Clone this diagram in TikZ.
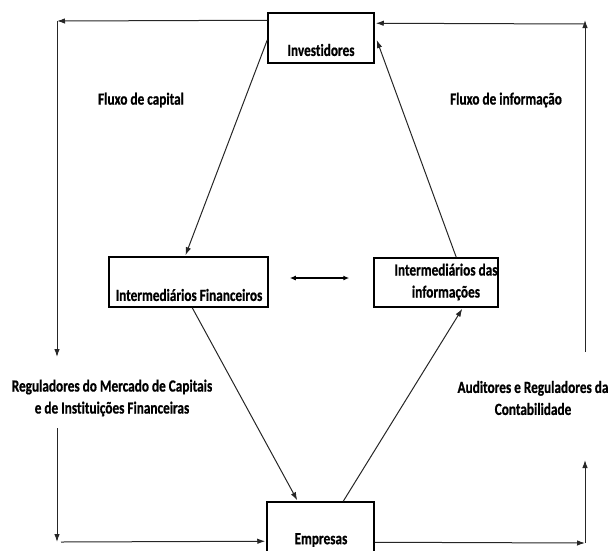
\documentclass[tikz,border=0pt]{standalone}
\usepackage{fontspec}
\usepackage{graphicx}
\setmainfont{Carlito}[Ligatures={NoCommon},BoldFeatures={FakeBold=0.8}]
\usetikzlibrary{arrows.meta,calc}
\newcommand\sqz[1]{\scalebox{0.78}[1]{#1}}
\begin{document}
\begin{tikzpicture}[x=1pt,y=-1pt,
  box/.style={draw=black,line width=1.5pt,rectangle,inner sep=0pt},
  lbl/.style={font=\bfseries\fontsize{17}{22}\selectfont,inner sep=0pt,align=center},
  con/.style={draw=black!85,line width=1pt,-{Latex[length=8pt,width=5.5pt]}}]
\useasboundingbox (0,0) rectangle (608,550);
% boxes
\node[box,minimum width=106pt,minimum height=50pt] (inv) at (321,38) {};
\node[box,minimum width=159pt,minimum height=50pt] (ifin) at (188.5,282) {};
\node[box,minimum width=124pt,minimum height=49pt] (iinf) at (436,282.5) {};
\node[box,minimum width=107pt,minimum height=58pt] (emp) at (320.5,531) {};
% box texts
\node[lbl] (tinv) at (321,50) {\sqz{Investidores}};
\node[lbl] (tifin) at (189,295) {\sqz{Intermediários Financeiros}};
\node[lbl] (tiinf) at (446,282) {\sqz{Intermediários das}\\\sqz{informações}};
\node[lbl] (temp) at (321,540) {\sqz{Empresas}};
% labels
\node[lbl] (fc) at (141,100) {\sqz{Fluxo de capital}};
\node[lbl] (fi) at (506,100) {\sqz{Fluxo de informação}};
\node[lbl] (reg) at (112,398) {\sqz{Reguladores do Mercado de Capitais}\\\sqz{e de Instituições Financeiras}};
\node[lbl] (aud) at (533,398) {\sqz{Auditores e Reguladores da}\\\sqz{Contabilidade}};
% corner coordinates
\coordinate (tl) at (57,21);
\coordinate (lm1) at (57,357);
\coordinate (lm2) at (57,428);
\coordinate (bl) at (57,542);
\coordinate (bl2) at (61,542);
\coordinate (rt) at (585,24);
\coordinate (rtop) at (585,20);
\coordinate (rm1) at (585,352);
\coordinate (rm2) at (585,460);
\coordinate (br) at (585,543);
% outer loop
\draw[con] ($(inv.north west)+(0,8)$) -- (tl);
\draw[con] (tl) -- (lm1);
\draw[con] (lm2) -- (bl);
\draw[con] (bl2) -- ($(emp.north west)+(-1,40)$);
\draw[con] ($(emp.north east)+(0,41)$) -- (br);
\draw[con] (br) -- (rm2);
\draw[con] (rm1) -- (rtop);
\draw[con] (rt) -- ($(inv.north east)+(1,11)$);
% diagonals
\draw[con] ($(inv.west)+(0,2)$) -- ($(ifin.north)+(-3,-1)$);
\draw[con] ($(ifin.south west)+(84,0)$) -- ($(emp.north west)+(31,-1)$);
\draw[con] ($(emp.north west)+(77,0)$) -- ($(iinf.south west)+(89,1)$);
\draw[con] ($(iinf.north west)+(83,0)$) -- ($(inv.east)+(2,2)$);
% double arrow
\draw[black,line width=1.3pt,{Latex[length=6pt,width=5pt]}-{Latex[length=6pt,width=5pt]}] ($(ifin.east)+(21,-4)$) -- ($(iinf.west)+(-24,-4.5)$);
\end{tikzpicture}
\end{document}
